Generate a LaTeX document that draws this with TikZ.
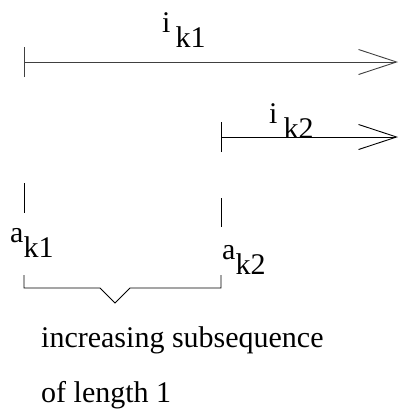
\documentclass[tikz,border=0pt]{standalone}
\usepackage{fontspec}
\setmainfont{Liberation Serif}
\usetikzlibrary{arrows.meta}

\newcommand{\sublbl}[3][0pt]{#2\kern#1\raisebox{-15pt}{#3}}

\begin{document}
\begin{tikzpicture}[x=1pt,y=-1pt,
  lbl/.style={inner sep=0pt,anchor=base west,font=\fontsize{30}{36}\selectfont},
  span/.style={{Bar[width=30pt]}-{Straight Barb[length=38pt,width=25pt]},line width=0.9pt},
  tickline/.style={line width=0.9pt}
]
  \useasboundingbox (0,0) rectangle (399,410);

  % ── intervals (top) ───────────────────────────────────────────────────────
  \coordinate (s1) at (24,62);  \coordinate (e1) at (398,62);
  \coordinate (s2) at (221,137); \coordinate (e2) at (398,137);
  \draw[span,draw=black!75] (s1) -- (e1);
  \draw[span] (s2) -- (e2);

  \node[lbl] (ik1) at (162,32)  {\sublbl[5pt]{i}{k1}};
  \node[lbl] (ik2) at (269,123) {\sublbl[6pt]{i}{k2}};

  % ── elements and brace (bottom) ───────────────────────────────────────────
  \draw[tickline] (24,183) -- (24,213);
  \draw[tickline] (221,198) -- (221,227);

  \node[lbl] (ak1) at (10,242)  {\sublbl{a}{k1}};
  \node[lbl] (ak2) at (222,259) {\sublbl{a}{k2}};

  \draw[tickline] (24,275) |- (100,288) -- (115,303) -- (130,288) -| (221,275);

  \node[lbl] (txt1) at (41,347) {increasing subsequence};
  \node[lbl] (txt2) at (41,402) {of length 1};
\end{tikzpicture}
\end{document}
